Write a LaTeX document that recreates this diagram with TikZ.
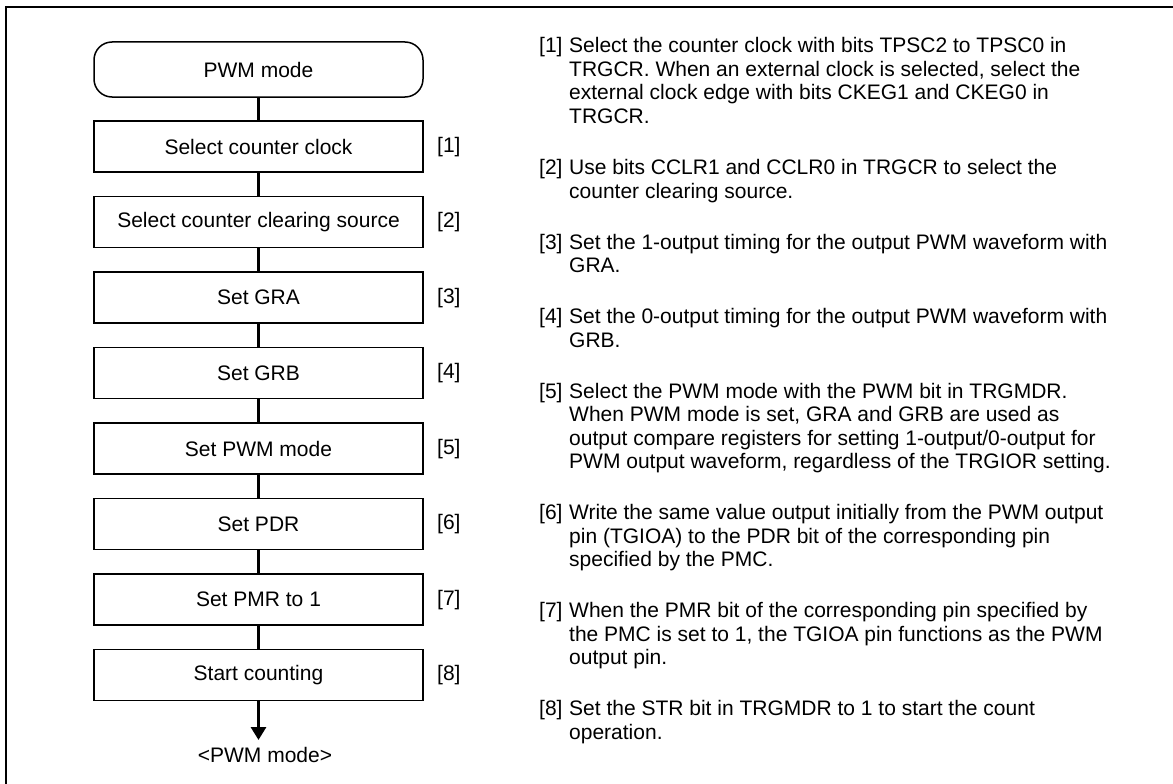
\documentclass[tikz,border=0pt]{standalone}
\usepackage{fontspec}
\setmainfont{Liberation Sans}
\usetikzlibrary{arrows.meta}
\newcommand\txtfont{\fontsize{21}{23.5}\selectfont}
\begin{document}
\begin{tikzpicture}[x=1pt,y=-1pt,
  stepbox/.style={draw, line width=1.5pt, minimum width=329pt, minimum height=51pt, inner sep=0pt, font=\txtfont},
  term/.style={draw, line width=1.5pt, rounded corners=18pt, minimum width=329pt, minimum height=55pt, inner sep=0pt, font=\txtfont},
  conn/.style={line width=3pt},
  tag/.style={anchor=base west, inner sep=0pt, font=\txtfont},
  para/.style={anchor=base west, inner sep=0pt, font=\txtfont},
  frame/.style={line width=1.5pt}]
\useasboundingbox (0,0) rectangle (1173,784);
\draw[frame] (6,784) -- (6,7) -- (1173,7);

% flowchart
\node[term] (t) at (258.5,69.5) {PWM mode};
\node[stepbox] (b1) at (258.5,146.5) {Select counter clock};
\node[stepbox] (b2) at (258.5,222) {Select counter clearing source};
\node[stepbox] (b3) at (258.5,297.5) {Set GRA};
\node[stepbox] (b4) at (258.5,373) {Set GRB};
\node[stepbox] (b5) at (258.5,448.5) {Set PWM mode};
\node[stepbox] (b6) at (258.5,524) {Set PDR};
\node[stepbox] (b7) at (258.5,599.5) {Set PMR to 1};
\node[stepbox] (b8) at (258.5,675) {Start counting};
\node[tag] (l1) at (437,152) {[1]};
\node[tag] (l2) at (437,227.5) {[2]};
\node[tag] (l3) at (437,303) {[3]};
\node[tag] (l4) at (437,378.5) {[4]};
\node[tag] (l5) at (437,454) {[5]};
\node[tag] (l6) at (437,529.5) {[6]};
\node[tag] (l7) at (437,605) {[7]};
\node[tag] (l8) at (437,680.5) {[8]};
\node[inner sep=0pt, font=\txtfont] (end) at (265,755) {<PWM mode>};
\coordinate (tip) at (258.5,740);
\draw[conn] (t.south) -- (b1.north);
\draw[conn] (b1.south) -- (b2.north);
\draw[conn] (b2.south) -- (b3.north);
\draw[conn] (b3.south) -- (b4.north);
\draw[conn] (b4.south) -- (b5.north);
\draw[conn] (b5.south) -- (b6.north);
\draw[conn] (b6.south) -- (b7.north);
\draw[conn] (b7.south) -- (b8.north);
\draw[conn,-{Triangle[width=15pt,length=13pt]}] (b8.south) -- (tip);

% explanations
\node[tag] (n1) at (539,53) {[1]};
\node[para] (p1) at (569,53) {\parbox[t]{600pt}{Select the counter clock with bits TPSC2 to TPSC0 in\\TRGCR. When an external clock is selected, select the\\external clock edge with bits CKEG1 and CKEG0 in\\TRGCR.}};
\node[tag] (n2) at (539,174.5) {[2]};
\node[para] (p2) at (569,174.5) {\parbox[t]{600pt}{Use bits CCLR1 and CCLR0 in TRGCR to select the\\counter clearing source.}};
\node[tag] (n3) at (539,249) {[3]};
\node[para] (p3) at (569,249) {\parbox[t]{600pt}{Set the 1-output timing for the output PWM waveform with\\GRA.}};
\node[tag] (n4) at (539,323.5) {[4]};
\node[para] (p4) at (569,323.5) {\parbox[t]{600pt}{Set the 0-output timing for the output PWM waveform with\\GRB.}};
\node[tag] (n5) at (539,398) {[5]};
\node[para] (p5) at (569,398) {\parbox[t]{600pt}{Select the PWM mode with the PWM bit in TRGMDR.\\When PWM mode is set, GRA and GRB are used as\\output compare registers for setting 1-output/0-output for\\PWM output waveform, regardless of the TRGIOR setting.}};
\node[tag] (n6) at (539,519.5) {[6]};
\node[para] (p6) at (569,519.5) {\parbox[t]{600pt}{Write the same value output initially from the PWM output\\pin (TGIOA) to the PDR bit of the corresponding pin\\specified by the PMC.}};
\node[tag] (n7) at (539,617.5) {[7]};
\node[para] (p7) at (569,617.5) {\parbox[t]{600pt}{When the PMR bit of the corresponding pin specified by\\the PMC is set to 1, the TGIOA pin functions as the PWM\\output pin.}};
\node[tag] (n8) at (539,715.5) {[8]};
\node[para] (p8) at (569,715.5) {\parbox[t]{600pt}{Set the STR bit in TRGMDR to 1 to start the count\\operation.}};
\end{tikzpicture}
\end{document}
